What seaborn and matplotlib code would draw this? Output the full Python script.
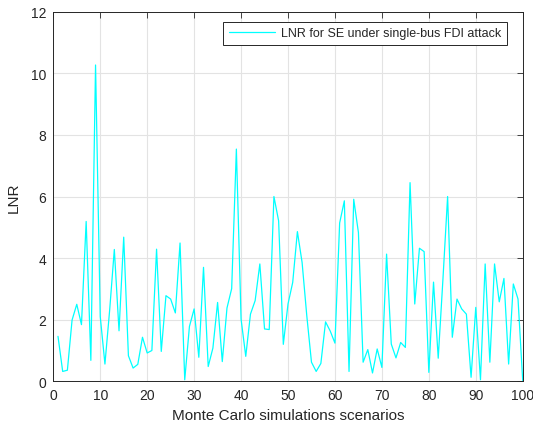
import matplotlib
matplotlib.use("Agg")
import matplotlib.pyplot as plt
import seaborn as sns
import pandas as pd

scenarios = list(range(1, 101))
lnr = [1.46, 0.32, 0.36, 1.99, 2.50, 1.84, 5.19, 0.68, 10.27, 2.10,
       0.56, 2.30, 4.28, 1.64, 4.68, 0.83, 0.43, 0.55, 1.43, 0.92,
       1.00, 4.29, 0.97, 2.78, 2.67, 2.22, 4.49, 0.05, 1.78, 2.35,
       0.78, 3.70, 0.48, 1.08, 2.56, 0.64, 2.38, 3.01, 7.54, 2.02,
       0.81, 2.18, 2.62, 3.81, 1.70, 1.68, 6.00, 5.21, 1.20, 2.51,
       3.21, 4.86, 3.86, 2.13, 0.62, 0.32, 0.58, 1.93, 1.63, 1.24,
       5.14, 5.86, 0.32, 5.91, 4.83, 0.62, 1.03, 0.27, 1.05, 0.45,
       4.13, 1.21, 0.76, 1.26, 1.10, 6.45, 2.51, 4.32, 4.21, 0.29,
       3.22, 0.75, 3.30, 6.00, 1.43, 2.67, 2.35, 2.18, 0.13, 2.40,
       0.05, 3.81, 0.62, 3.81, 2.58, 3.34, 0.56, 3.16, 2.67, 0.02]
series_label = "LNR for SE under single-bus FDI attack"
x_ticks = [0, 10, 20, 30, 40, 50, 60, 70, 80, 90, 100]
y_ticks = [0, 2, 4, 6, 8, 10, 12]

sns.set_style("white")
plt.rcParams['font.family'] = ['Liberation Sans', 'DejaVu Sans']

df = pd.DataFrame({"x": scenarios, "y": lnr})

fig = plt.figure(figsize=(5.33, 4.31), dpi=100)
ax = fig.add_axes([0.100, 0.113, 0.8807, 0.8575])
sns.lineplot(data=df, x="x", y="y", ax=ax, color="#00FFFF", linewidth=0.9,
             label=series_label)

ax.set_xlim(0, 100)
ax.set_ylim(0, 12)
ax.set_xticks(x_ticks)
ax.set_yticks(y_ticks)
ax.grid(True, color="#e3e3e3", linewidth=0.8)
ax.set_axisbelow(True)
for s in ax.spines.values():
    s.set_color("#262626")
    s.set_linewidth(0.7)
ax.tick_params(direction="in", top=True, right=True, length=4, width=0.6,
               colors="#262626", labelsize=10, pad=5)
ax.set_xlabel("Monte Carlo simulations scenarios", fontsize=11, color="#262626", labelpad=4)
ax.set_ylabel("LNR", fontsize=11, color="#262626", labelpad=7)

leg = ax.legend(loc="upper right", fontsize=9, frameon=True, fancybox=False,
                edgecolor="#262626", framealpha=1, borderpad=0.45,
                handlelength=3.7, handletextpad=0.45,
                bbox_to_anchor=(0.979, 0.99))
leg.get_frame().set_linewidth(0.7)

fig.savefig("out.png", dpi=100)
